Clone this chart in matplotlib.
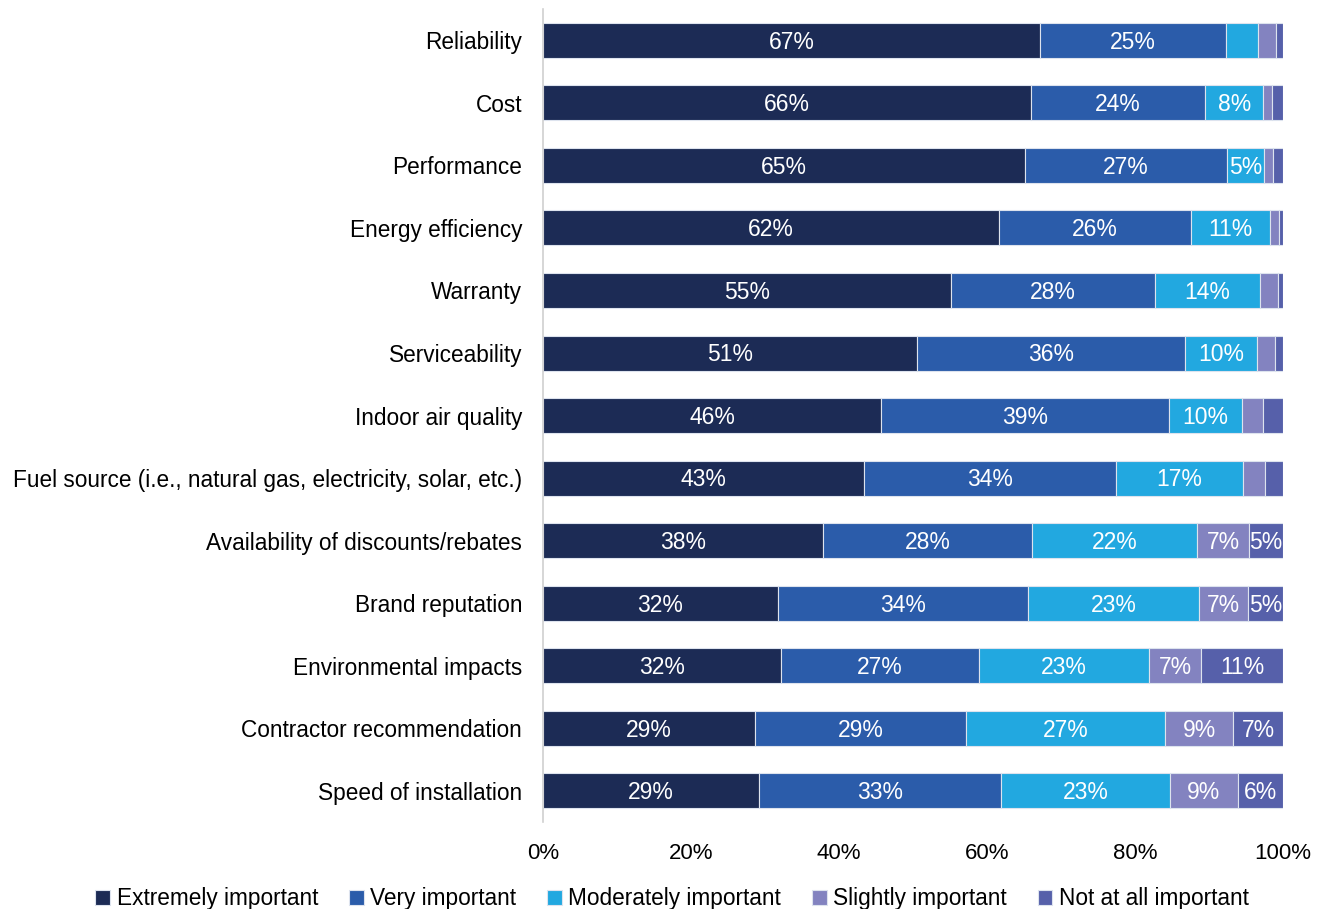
import matplotlib.pyplot as plt
import numpy as np

categories = ["Reliability", "Cost", "Performance", "Energy efficiency", "Warranty",
              "Serviceability", "Indoor air quality",
              "Fuel source (i.e., natural gas, electricity, solar, etc.)",
              "Availability of discounts/rebates", "Brand reputation",
              "Environmental impacts", "Contractor recommendation", "Speed of installation"]
series = ["Extremely important", "Very important", "Moderately important",
          "Slightly important", "Not at all important"]

extremely = [67.2, 65.9, 65.1, 61.6, 55.1, 50.6, 45.7, 43.4, 37.9, 31.7, 32.1, 28.6, 29.2]
very = [25.1, 23.6, 27.3, 26.0, 27.6, 36.2, 38.9, 34.0, 28.2, 33.9, 26.8, 28.6, 32.7]
moderately = [4.3, 7.8, 5.0, 10.6, 14.2, 9.7, 9.8, 17.2, 22.3, 23.1, 23.0, 26.8, 22.8]
slightly = [2.5, 1.2, 1.2, 1.2, 2.4, 2.4, 2.9, 3.0, 7.0, 6.6, 7.0, 9.3, 9.2]
not_at_all = [0.9, 1.5, 1.4, 0.6, 0.7, 1.1, 2.7, 2.4, 4.6, 4.7, 11.1, 6.7, 6.1]

colors = ["#1c2b55", "#2b5caa", "#22a8e0", "#8383c0", "#5660aa"]

plt.rcParams['font.family'] = ['Liberation Sans', 'DejaVu Sans']

fig = plt.figure(figsize=(13.18, 9.09), dpi=100)
ax = fig.add_axes([0.412, 0.0957, 0.5615, 0.8943])

y = np.arange(len(categories))
left = np.zeros(len(categories))
for name, vals, c in zip(series, [extremely, very, moderately, slightly, not_at_all], colors):
    vals = np.array(vals)
    ax.barh(y, vals, left=left, height=0.56, color=c, edgecolor='#dde3ee',
            linewidth=0.8, label=name)
    for yi, l, v in zip(y, left, vals):
        if round(v) >= 5:
            ax.text(l + v / 2, yi + 0.03, f"{round(v)}%", ha='center', va='center',
                    color='white', fontsize=16.5)
    left += vals

ax.set_ylim(len(categories) - 0.5, -0.5)
ax.set_xlim(0, 100)
ax.set_yticks(y)
ax.set_yticklabels(categories, fontsize=16.3)
ax.set_xticks(np.arange(0, 101, 20))
ax.set_xticklabels([f"{t}%" for t in range(0, 101, 20)], fontsize=16)
ax.tick_params(axis='both', length=0)
ax.tick_params(axis='y', pad=15)
ax.tick_params(axis='x', pad=15)
for s in ['top', 'right', 'bottom']:
    ax.spines[s].set_visible(False)
ax.spines['left'].set_color('#d0d0d0')
ax.spines['left'].set_linewidth(1.2)

fig.legend(loc='lower center', bbox_to_anchor=(0.51, -0.024), ncol=5, frameon=False,
           fontsize=16.3, handlelength=0.65, handleheight=0.65, handletextpad=0.3,
           columnspacing=1.35)

fig.savefig("out.png", dpi=100)
